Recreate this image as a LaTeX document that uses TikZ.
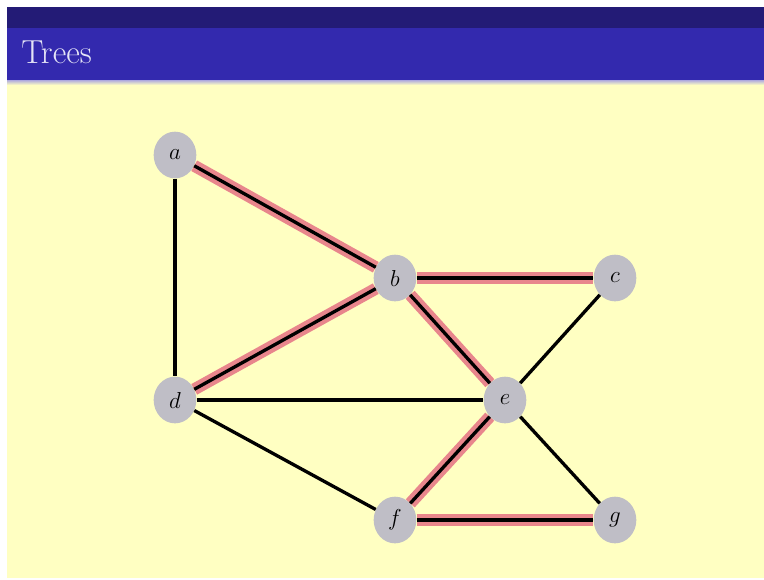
\documentclass[tikz,border=0pt]{standalone}
\usepackage{tikz}
\usetikzlibrary{shapes.geometric}
\definecolor{framebg}{HTML}{FFFFC2}
\definecolor{headdark}{HTML}{231B76}
\definecolor{headblue}{HTML}{3329AE}
\definecolor{titletext}{HTML}{E4E4F6}
\definecolor{vertgray}{HTML}{BFBEC6}
\definecolor{treehl}{HTML}{E8868C}

\begin{document}
\begin{tikzpicture}[x=0.75pt,y=-0.75pt,
 vert/.style={ellipse,fill=vertgray,minimum width=32pt,minimum height=35pt,inner sep=0pt,font=\fontsize{17}{20}\selectfont},
 edge/.style={draw=black,line width=2.5pt},
 tedge/.style={edge,preaction={draw=treehl,line width=9pt}}]
\useasboundingbox (0,0) rectangle (764,579);
\fill[white] (0,0) rectangle (764,579);
% slide and title bar
\fill[framebg] (7,7) rectangle (764,578);
\fill[headdark] (7,7) rectangle (764,28);
\fill[headblue] (7,28) rectangle (764,80);
\shade[top color=headblue!40!white,bottom color=framebg] (7,80) rectangle (764,85);
\node[anchor=base west,text=titletext,font=\fontsize{25}{30}\selectfont,inner sep=0pt] (title) at (21,63) {Trees};
% vertices
\node[vert] (a) at (175,155) {$a$};
\node[vert] (b) at (395,278) {$b$};
\node[vert] (c) at (615,278) {$c$};
\node[vert] (d) at (175,400) {$d$};
\node[vert] (e) at (505,400) {$e$};
\node[vert] (f) at (395,520) {$f$};
\node[vert] (g) at (615,520) {$g$};
% edges, spanning tree highlighted
\draw[edge] (a)--(d);
\draw[edge] (c)--(e);
\draw[edge] (d)--(e);
\draw[edge] (d)--(f);
\draw[edge] (e)--(g);
\draw[tedge] (a)--(b);
\draw[tedge] (b)--(c);
\draw[tedge] (b)--(d);
\draw[tedge] (b)--(e);
\draw[tedge] (e)--(f);
\draw[tedge] (f)--(g);
\end{tikzpicture}
\end{document}
